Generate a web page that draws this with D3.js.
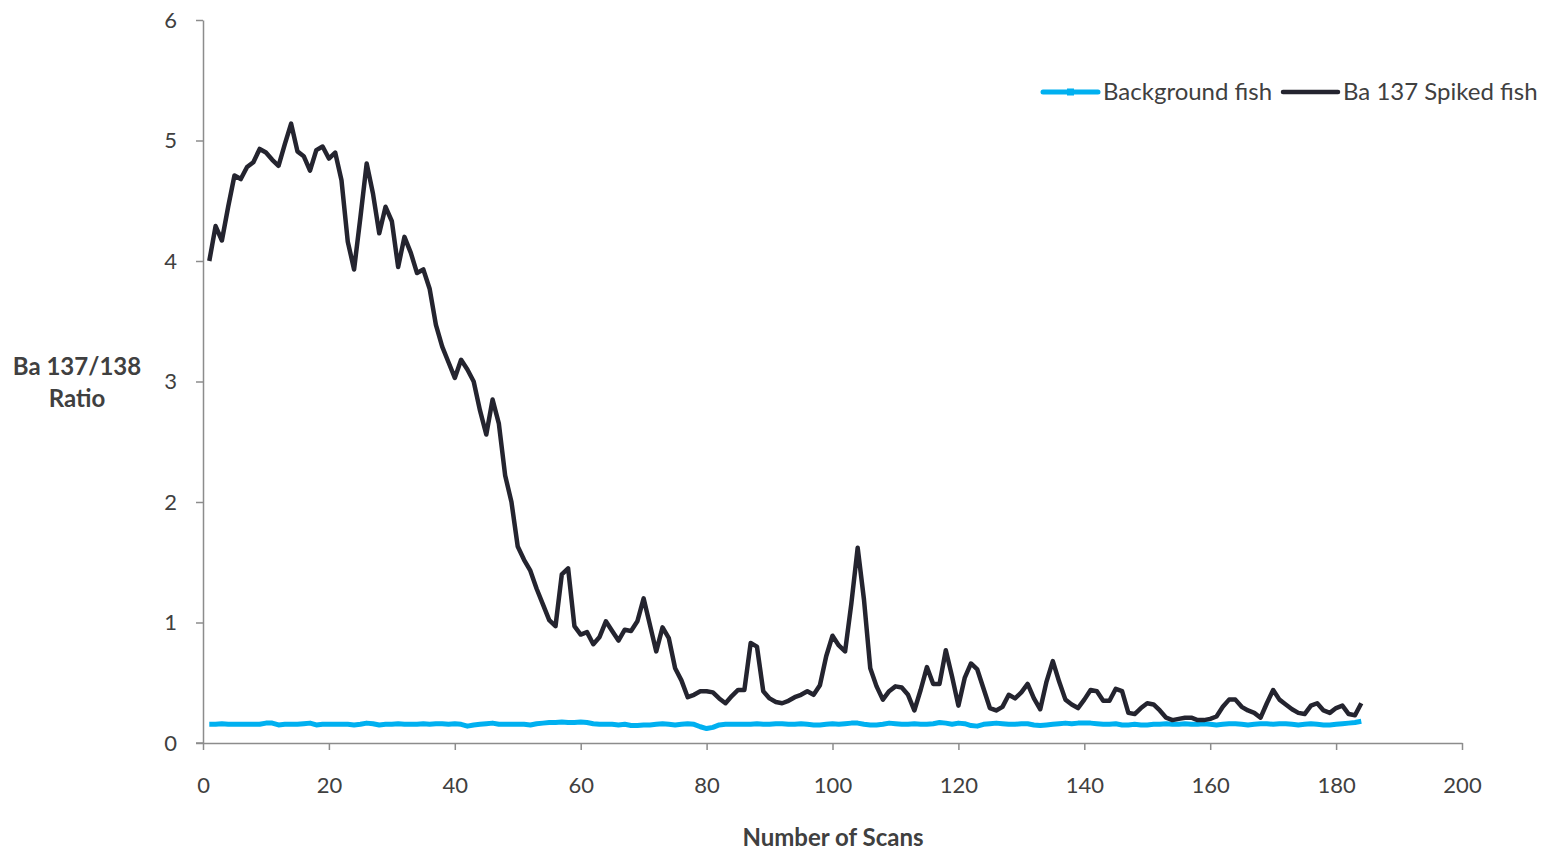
<!DOCTYPE html>
<html>
<head>
<meta charset="utf-8">
<script src="https://cdn.jsdelivr.net/npm/d3@7"></script>
<style>
  html, body { margin: 0; padding: 0; background: #fff; }
  svg { display: block; }
  text { font-family: Lato, "Open Sans", sans-serif; }
</style>
</head>
<body>
<svg id="chart" width="1552" height="851"></svg>
<script>
// ---------- data ----------
const xTicks = [0, 20, 40, 60, 80, 100, 120, 140, 160, 180, 200];
const yTicks = [0, 1, 2, 3, 4, 5, 6];
const seriesNames = ["Background fish", "Ba 137 Spiked fish"];

const spiked = [
  4.00, 4.29, 4.17, 4.45, 4.71, 4.68, 4.78, 4.82, 4.93, 4.90,
  4.84, 4.79, 4.97, 5.14, 4.91, 4.87, 4.75, 4.92, 4.95, 4.85,
  4.90, 4.67, 4.16, 3.93, 4.36, 4.81, 4.56, 4.23, 4.45, 4.33,
  3.95, 4.20, 4.07, 3.90, 3.93, 3.77, 3.47, 3.29, 3.16, 3.03,
  3.18, 3.10, 3.00, 2.76, 2.56, 2.85, 2.65, 2.22, 2.00, 1.63,
  1.52, 1.43, 1.28, 1.15, 1.02, 0.97, 1.40, 1.45, 0.97, 0.90,
  0.92, 0.82, 0.88, 1.01, 0.93, 0.85, 0.94, 0.93, 1.01, 1.20,
  0.98, 0.76, 0.96, 0.87, 0.62, 0.52, 0.38, 0.40, 0.43, 0.43,
  0.42, 0.37, 0.33, 0.39, 0.44, 0.44, 0.83, 0.80, 0.43, 0.37,
  0.34, 0.33, 0.35, 0.38, 0.40, 0.43, 0.40, 0.48, 0.72, 0.89,
  0.81, 0.76, 1.16, 1.62, 1.19, 0.62, 0.47, 0.36, 0.43, 0.47,
  0.46, 0.40, 0.27, 0.44, 0.63, 0.49, 0.49, 0.77, 0.55, 0.31,
  0.54, 0.66, 0.61, 0.45, 0.29, 0.27, 0.30, 0.40, 0.37, 0.42,
  0.49, 0.37, 0.28, 0.51, 0.68, 0.51, 0.36, 0.32, 0.29, 0.36,
  0.44, 0.43, 0.35, 0.35, 0.45, 0.43, 0.25, 0.24, 0.29, 0.33,
  0.32, 0.27, 0.21, 0.19, 0.20, 0.21, 0.21, 0.19, 0.19, 0.20,
  0.22, 0.30, 0.36, 0.36, 0.30, 0.27, 0.25, 0.21, 0.33, 0.44,
  0.36, 0.32, 0.28, 0.25, 0.24, 0.31, 0.33, 0.27, 0.25, 0.29,
  0.31, 0.24, 0.23, 0.33
];

const background = [
  .155,.155,.16,.155,.155,.155,.155,.155,.155,.165,
  .165,.15,.155,.155,.155,.16,.165,.15,.155,.155,
  .155,.155,.155,.15,.155,.165,.16,.15,.155,.155,
  .16,.155,.155,.155,.16,.155,.16,.16,.155,.16,
  .155,.14,.15,.155,.16,.165,.155,.155,.155,.155,
  .155,.15,.16,.165,.17,.17,.175,.17,.17,.175,
  .17,.16,.155,.155,.155,.15,.155,.145,.145,.15,
  .15,.155,.16,.155,.15,.155,.16,.155,.135,.12,
  .13,.15,.155,.155,.155,.155,.155,.16,.155,.155,
  .16,.16,.155,.155,.16,.155,.15,.15,.155,.16,
  .155,.16,.165,.165,.155,.15,.15,.155,.165,.16,
  .155,.155,.16,.155,.155,.16,.17,.165,.155,.165,
  .16,.145,.14,.155,.16,.165,.16,.155,.155,.16,
  .16,.15,.145,.15,.155,.16,.165,.16,.165,.165,
  .165,.16,.155,.155,.16,.15,.15,.155,.15,.15,
  .155,.155,.16,.155,.155,.16,.155,.155,.16,.155,
  .15,.155,.16,.16,.155,.15,.155,.16,.16,.155,
  .16,.16,.155,.15,.155,.16,.155,.15,.15,.155,
  .16,.165,.17,.18
];

// ---------- chart ----------
const svg = d3.select("#chart");
const axisColor = "#8c8c8c";
const labelColor = "#404040";
const blue = "#00b0f0";
const dark = "#24242f";

const x = d3.scaleLinear().domain([0, 200]).range([203, 1462]);
const y = d3.scaleLinear().domain([0, 6]).range([743, 20]);

// axes
const xAxis = svg.append("g").attr("transform", `translate(0,${y(0)})`)
  .call(d3.axisBottom(x).tickValues(xTicks).tickFormat(d3.format("d"))
    .tickSize(7).tickSizeOuter(0).tickPadding(27));
const yAxis = svg.append("g").attr("transform", `translate(${x(0)},0)`)
  .call(d3.axisLeft(y).tickValues(yTicks).tickFormat(d3.format("d"))
    .tickSize(7).tickSizeOuter(0).tickPadding(19));

[xAxis, yAxis].forEach(g => {
  g.select(".domain").attr("stroke", axisColor).attr("stroke-width", 1.5);
  g.selectAll(".tick line").attr("stroke", axisColor).attr("stroke-width", 1.5);
  g.selectAll(".tick text").attr("fill", labelColor)
    .style("font-size", "22px").style("font-family", "Lato, 'Open Sans', sans-serif");
});
// extend x axis line to the left a bit, like the original
svg.append("line").attr("x1", x(0) - 7).attr("x2", x(0))
  .attr("y1", y(0)).attr("y2", y(0)).attr("stroke", axisColor).attr("stroke-width", 1.5);

// lines
const line = d3.line().x((d, i) => x(i + 1)).y(d => y(d));

svg.append("path").datum(background)
  .attr("fill", "none").attr("stroke", blue).attr("stroke-width", 5)
  .attr("stroke-linejoin", "round").attr("d", line);

svg.append("path").datum(spiked)
  .attr("fill", "none").attr("stroke", dark).attr("stroke-width", 4.5)
  .attr("stroke-linejoin", "round").attr("d", line);

// axis titles
svg.append("text").attr("x", 77).attr("y", 375).attr("text-anchor", "middle")
  .attr("fill", labelColor).style("font-size", "24px").style("font-weight", "bold")
  .text("Ba 137/138");
svg.append("text").attr("x", 77).attr("y", 407).attr("text-anchor", "middle")
  .attr("fill", labelColor).style("font-size", "24px").style("font-weight", "bold")
  .text("Ratio");
svg.append("text").attr("x", 833).attr("y", 846).attr("text-anchor", "middle")
  .attr("fill", labelColor).style("font-size", "24px").style("font-weight", "bold")
  .text("Number of Scans");

// legend
const legend = [
  { name: seriesNames[0], color: blue, w: 5, x0: 1043, marker: "square" },
  { name: seriesNames[1], color: dark, w: 4.5, x0: 1283, marker: "dash" }
];
legend.forEach(l => {
  const g = svg.append("g");
  g.append("line").attr("x1", l.x0).attr("x2", l.x0 + 55).attr("y1", 92).attr("y2", 92)
    .attr("stroke", l.color).attr("stroke-width", l.w).attr("stroke-linecap", "round");
  if (l.marker === "square") {
    g.append("rect").attr("x", l.x0 + 24).attr("y", 88.5).attr("width", 7).attr("height", 7)
      .attr("fill", l.color);
  }
  g.append("text").attr("x", l.x0 + 60).attr("y", 100)
    .attr("fill", labelColor).style("font-size", "24px").text(l.name);
});
</script>
</body>
</html>
